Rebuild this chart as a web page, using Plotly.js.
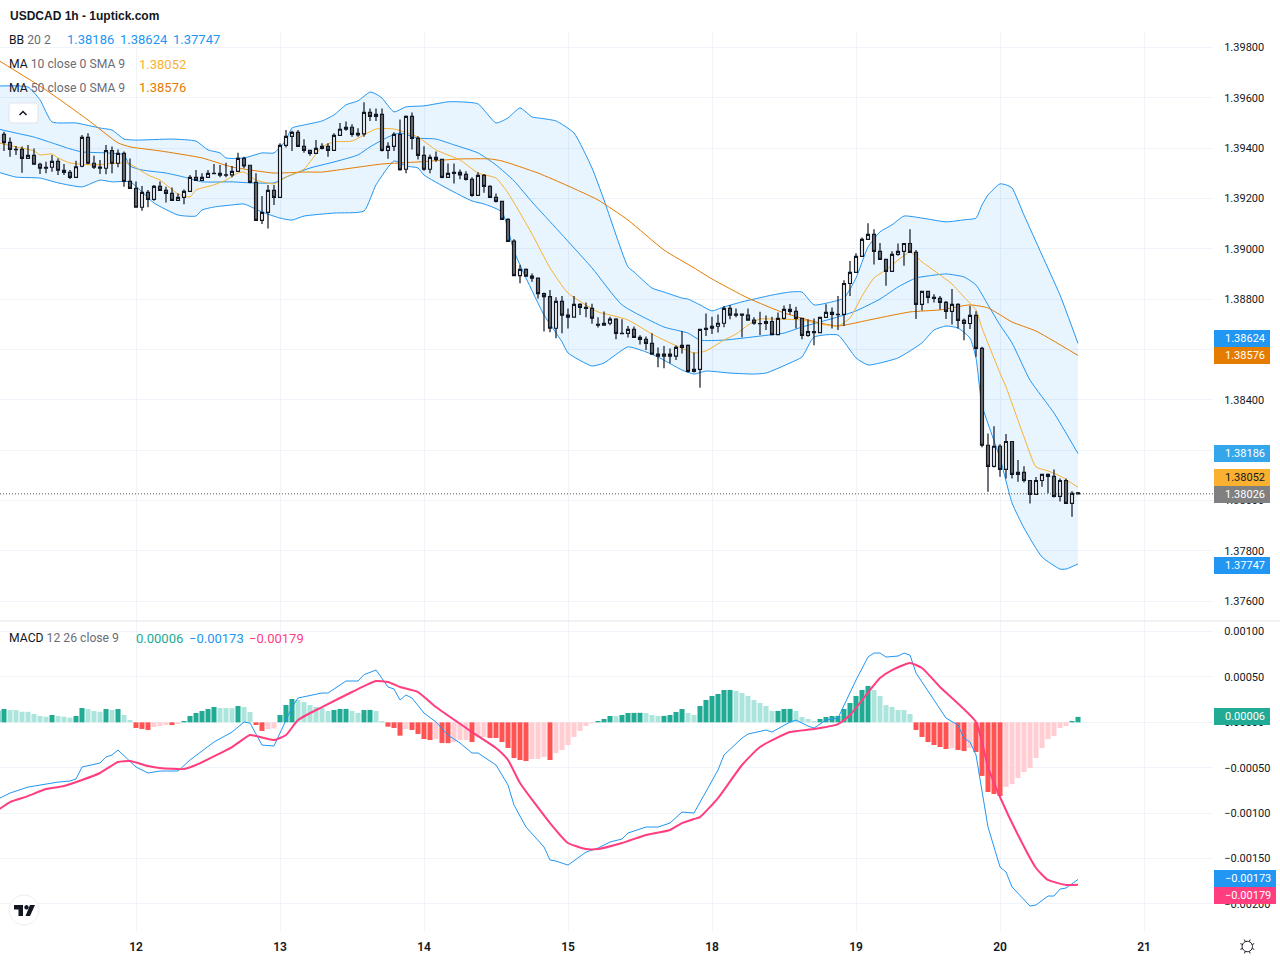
<!DOCTYPE html>
<html><head><meta charset="utf-8">
<script src="https://cdn.plot.ly/plotly-3.0.1.min.js"></script>
<style>html,body{margin:0;padding:0;background:#fff}#c{width:1280px;height:960px}</style>
</head><body><div id="c"></div>
<script>
// Hourly candles, first visible session to last bar
const openP=[1.39455,1.39455,1.39423,1.39395,1.39395,1.39359,1.39371,1.39336,1.39324,1.39324,1.39347,1.39312,1.39304,1.39284,1.39328,1.39443,1.39340,1.39325,1.39320,1.39390,1.39340,1.39379,1.39268,1.39240,1.39165,1.39224,1.39196,1.39248,1.39232,1.39220,1.39192,1.39204,1.39228,1.39284,1.39272,1.39284,1.39300,1.39300,1.39294,1.39294,1.39308,1.39359,1.39332,1.39264,1.39113,1.39145,1.39232,1.39204,1.39411,1.39447,1.39463,1.39407,1.39391,1.39379,1.39399,1.39407,1.39391,1.39451,1.39475,1.39483,1.39459,1.39457,1.39542,1.39526,1.39534,1.39391,1.39407,1.39455,1.39316,1.39526,1.39439,1.39371,1.39316,1.39363,1.39355,1.39284,1.39304,1.39304,1.39296,1.39276,1.39212,1.39292,1.39248,1.39204,1.39188,1.39117,1.39030,1.38893,1.38918,1.38891,1.38883,1.38822,1.38810,1.38684,1.38791,1.38736,1.38728,1.38779,1.38767,1.38763,1.38700,1.38696,1.38704,1.38720,1.38664,1.38664,1.38680,1.38648,1.38640,1.38624,1.38581,1.38573,1.38581,1.38573,1.38608,1.38616,1.38513,1.38521,1.38684,1.38684,1.38692,1.38704,1.38763,1.38740,1.38740,1.38736,1.38716,1.38703,1.38703,1.38711,1.38659,1.38723,1.38759,1.38751,1.38723,1.38656,1.38671,1.38667,1.38727,1.38747,1.38739,1.38739,1.38862,1.38906,1.38970,1.39037,1.39057,1.38990,1.38958,1.38910,1.38978,1.38990,1.39021,1.38986,1.38779,1.38831,1.38807,1.38803,1.38787,1.38751,1.38779,1.38715,1.38703,1.38735,1.38604,1.38219,1.38135,1.38215,1.38123,1.38234,1.38103,1.38111,1.38079,1.38024,1.38079,1.38103,1.38095,1.38016,1.38079,1.37988,1.38030];
const highP=[1.39465,1.39465,1.39442,1.39408,1.39406,1.39412,1.39399,1.39342,1.39346,1.39373,1.39359,1.39337,1.39313,1.39350,1.39452,1.39459,1.39370,1.39353,1.39412,1.39406,1.39395,1.39387,1.39359,1.39267,1.39249,1.39234,1.39253,1.39267,1.39247,1.39244,1.39220,1.39236,1.39293,1.39313,1.39300,1.39313,1.39337,1.39333,1.39342,1.39329,1.39382,1.39366,1.39333,1.39300,1.39210,1.39253,1.39253,1.39419,1.39472,1.39469,1.39472,1.39435,1.39391,1.39432,1.39419,1.39419,1.39459,1.39500,1.39506,1.39495,1.39479,1.39582,1.39558,1.39558,1.39558,1.39423,1.39463,1.39514,1.39530,1.39542,1.39447,1.39407,1.39375,1.39387,1.39355,1.39339,1.39339,1.39315,1.39308,1.39284,1.39304,1.39297,1.39252,1.39220,1.39191,1.39121,1.39038,1.38936,1.38922,1.38902,1.38883,1.38826,1.38836,1.38807,1.38812,1.38763,1.38812,1.38783,1.38786,1.38781,1.38728,1.38751,1.38730,1.38724,1.38720,1.38693,1.38691,1.38656,1.38651,1.38664,1.38608,1.38614,1.38604,1.38616,1.38673,1.38620,1.38588,1.38680,1.38743,1.38730,1.38739,1.38773,1.38777,1.38763,1.38743,1.38763,1.38728,1.38750,1.38735,1.38730,1.38747,1.38775,1.38780,1.38770,1.38723,1.38719,1.38723,1.38727,1.38779,1.38767,1.38812,1.38875,1.38951,1.38982,1.39045,1.39101,1.39078,1.39023,1.38958,1.38990,1.39021,1.39021,1.39078,1.38995,1.38831,1.38831,1.38819,1.38812,1.38792,1.38840,1.38783,1.38723,1.38774,1.38752,1.38611,1.38266,1.38295,1.38223,1.38264,1.38234,1.38160,1.38136,1.38079,1.38093,1.38103,1.38107,1.38123,1.38087,1.38087,1.38036,1.38033];
const lowP=[1.39333,1.39389,1.39366,1.39373,1.39302,1.39359,1.39336,1.39297,1.39300,1.39306,1.39293,1.39293,1.39277,1.39284,1.39324,1.39336,1.39317,1.39297,1.39296,1.39300,1.39324,1.39247,1.39240,1.39165,1.39151,1.39165,1.39191,1.39232,1.39184,1.39192,1.39192,1.39177,1.39228,1.39272,1.39272,1.39284,1.39297,1.39284,1.39284,1.39284,1.39308,1.39320,1.39260,1.39113,1.39098,1.39081,1.39174,1.39204,1.39403,1.39389,1.39406,1.39382,1.39370,1.39379,1.39395,1.39366,1.39391,1.39451,1.39469,1.39445,1.39445,1.39445,1.39508,1.39508,1.39387,1.39358,1.39389,1.39310,1.39300,1.39395,1.39355,1.39310,1.39300,1.39346,1.39280,1.39284,1.39259,1.39276,1.39271,1.39207,1.39212,1.39223,1.39204,1.39184,1.39114,1.39029,1.38891,1.38863,1.38891,1.38869,1.38802,1.38671,1.38668,1.38644,1.38664,1.38683,1.38728,1.38737,1.38728,1.38702,1.38687,1.38696,1.38696,1.38640,1.38663,1.38647,1.38648,1.38620,1.38598,1.38581,1.38529,1.38525,1.38545,1.38558,1.38584,1.38508,1.38508,1.38448,1.38653,1.38661,1.38667,1.38688,1.38720,1.38728,1.38648,1.38716,1.38698,1.38657,1.38677,1.38659,1.38659,1.38719,1.38739,1.38683,1.38640,1.38650,1.38617,1.38667,1.38727,1.38683,1.38677,1.38693,1.38812,1.38906,1.38968,1.39037,1.38937,1.38958,1.38853,1.38910,1.38972,1.38933,1.38986,1.38721,1.38755,1.38783,1.38786,1.38759,1.38721,1.38699,1.38683,1.38636,1.38681,1.38571,1.38211,1.38034,1.38131,1.38094,1.38087,1.38087,1.38074,1.38071,1.37988,1.38024,1.38054,1.38028,1.38011,1.37995,1.37988,1.37935,1.38024];
const closeP=[1.39419,1.39422,1.39395,1.39394,1.39359,1.39371,1.39336,1.39320,1.39320,1.39347,1.39312,1.39304,1.39284,1.39326,1.39443,1.39340,1.39324,1.39320,1.39390,1.39340,1.39379,1.39268,1.39240,1.39165,1.39224,1.39196,1.39248,1.39232,1.39220,1.39192,1.39204,1.39228,1.39284,1.39272,1.39284,1.39300,1.39299,1.39293,1.39293,1.39308,1.39359,1.39329,1.39264,1.39113,1.39145,1.39232,1.39204,1.39411,1.39447,1.39463,1.39407,1.39391,1.39379,1.39399,1.39407,1.39391,1.39451,1.39475,1.39483,1.39455,1.39453,1.39542,1.39526,1.39534,1.39391,1.39407,1.39455,1.39314,1.39526,1.39439,1.39371,1.39316,1.39363,1.39355,1.39284,1.39300,1.39300,1.39294,1.39276,1.39212,1.39292,1.39248,1.39204,1.39188,1.39117,1.39029,1.38893,1.38918,1.38891,1.38883,1.38822,1.38810,1.38684,1.38791,1.38736,1.38728,1.38779,1.38767,1.38763,1.38724,1.38696,1.38704,1.38720,1.38664,1.38663,1.38680,1.38648,1.38640,1.38624,1.38581,1.38573,1.38581,1.38573,1.38608,1.38616,1.38513,1.38521,1.38680,1.38680,1.38692,1.38704,1.38763,1.38736,1.38736,1.38736,1.38716,1.38704,1.38702,1.38711,1.38659,1.38723,1.38759,1.38751,1.38723,1.38656,1.38671,1.38667,1.38727,1.38747,1.38739,1.38738,1.38862,1.38906,1.38970,1.39037,1.39057,1.38990,1.38958,1.38910,1.38978,1.38990,1.39021,1.38986,1.38779,1.38831,1.38807,1.38803,1.38787,1.38751,1.38779,1.38715,1.38703,1.38735,1.38604,1.38219,1.38135,1.38215,1.38123,1.38234,1.38103,1.38111,1.38079,1.38024,1.38079,1.38103,1.38095,1.38016,1.38079,1.37988,1.38028,1.38026];

// Bollinger bands, read at their turning points
const bbUpperX=[-1,4,6,8,12,16,18,20,22,28,32,34,36,37,40,43,45,47,48,50,53,55,57,59,61,62,63,65,67,70,74,76,79,82,84,86,88,89,92,95,98,100,104,105,108,110,113,114,116,118,120,123,125,128,131,133,135,138,140,142,144,146,148,150,153,157,160,162,163,164,166,167,168,170,173,176,179];
const bbUpperY=[1.39647,1.39643,1.39592,1.39504,1.39500,1.39480,1.39472,1.39436,1.39432,1.39436,1.39428,1.39393,1.39381,1.39361,1.39361,1.39381,1.39381,1.39432,1.39480,1.39492,1.39508,1.39532,1.39572,1.39588,1.39623,1.39615,1.39599,1.39544,1.39564,1.39568,1.39584,1.39584,1.39576,1.39500,1.39520,1.39560,1.39524,1.39520,1.39508,1.39460,1.39321,1.39194,1.38928,1.38908,1.38844,1.38828,1.38804,1.38800,1.38777,1.38753,1.38769,1.38789,1.38800,1.38816,1.38828,1.38828,1.38777,1.38789,1.38804,1.38884,1.39007,1.39067,1.39095,1.39130,1.39122,1.39107,1.39115,1.39122,1.39174,1.39214,1.39258,1.39254,1.39242,1.39134,1.38975,1.38816,1.38624];
const bbBasisX=[-1,2,5,8,11,13,17,20,21,23,27,30,33,38,41,45,47,51,55,59,61,64,66,69,72,75,79,82,85,88,90,98,103,110,114,116,120,126,130,133,136,139,142,146,149,152,154,157,160,162,164,166,168,171,175,179];
const bbBasisY=[1.39476,1.39460,1.39444,1.39421,1.39397,1.39385,1.39381,1.39373,1.39329,1.39313,1.39301,1.39285,1.39266,1.39266,1.39262,1.39262,1.39285,1.39321,1.39345,1.39373,1.39405,1.39444,1.39460,1.39440,1.39436,1.39413,1.39381,1.39333,1.39270,1.39186,1.39134,1.38924,1.38777,1.38689,1.38665,1.38637,1.38637,1.38653,1.38665,1.38689,1.38709,1.38729,1.38753,1.38800,1.38848,1.38884,1.38892,1.38900,1.38888,1.38856,1.38777,1.38697,1.38626,1.38478,1.38347,1.38186];
const bbLowerX=[-1,2,6,9,13,16,18,21,25,29,32,33,35,38,40,43,46,48,50,55,60,62,65,67,69,70,74,78,80,83,85,87,90,93,94,98,100,104,107,109,113,115,117,121,125,127,131,133,135,139,142,144,146,149,153,155,157,159,161,162,163,166,168,170,173,176,177,179];
const bbLowerY=[1.39305,1.39285,1.39281,1.39262,1.39246,1.39273,1.39266,1.39266,1.39182,1.39134,1.39130,1.39154,1.39166,1.39174,1.39178,1.39146,1.39122,1.39114,1.39130,1.39142,1.39150,1.39254,1.39349,1.39329,1.39321,1.39293,1.39238,1.39190,1.39178,1.39146,1.38991,1.38884,1.38737,1.38630,1.38586,1.38534,1.38546,1.38610,1.38590,1.38570,1.38518,1.38502,1.38514,1.38506,1.38502,1.38506,1.38546,1.38570,1.38649,1.38657,1.38566,1.38538,1.38546,1.38566,1.38626,1.38677,1.38693,1.38685,1.38645,1.38566,1.38379,1.38168,1.37990,1.37890,1.37775,1.37727,1.37727,1.37747];

// Moving averages
const ma10X=[-1,2,5,6,8,9,11,15,17,20,21,24,26,29,31,32,35,37,39,40,42,45,47,50,53,55,58,62,65,69,72,76,79,82,84,88,91,94,99,101,104,108,111,115,117,120,122,124,126,128,133,136,139,141,143,145,147,149,151,153,156,158,160,162,163,166,167,170,172,174,176,179];
const ma10Y=[1.39421,1.39405,1.39389,1.39373,1.39377,1.39361,1.39341,1.39333,1.39337,1.39341,1.39337,1.39293,1.39273,1.39218,1.39206,1.39234,1.39254,1.39273,1.39301,1.39305,1.39273,1.39258,1.39285,1.39317,1.39405,1.39425,1.39428,1.39476,1.39476,1.39444,1.39393,1.39353,1.39301,1.39281,1.39222,1.39059,1.38924,1.38824,1.38749,1.38737,1.38717,1.38661,1.38626,1.38586,1.38594,1.38637,1.38661,1.38697,1.38721,1.38721,1.38717,1.38701,1.38693,1.38725,1.38812,1.38884,1.38916,1.38955,1.38987,1.38948,1.38896,1.38860,1.38808,1.38757,1.38685,1.38506,1.38451,1.38252,1.38133,1.38117,1.38097,1.38052];
const ma50X=[-1,7,14,19,21,26,33,38,45,50,53,58,63,69,76,81,83,89,94,99,104,110,115,118,124,130,136,139,145,151,156,161,164,168,172,179];
const ma50Y=[1.39750,1.39631,1.39512,1.39421,1.39405,1.39389,1.39361,1.39325,1.39301,1.39305,1.39305,1.39321,1.39337,1.39345,1.39357,1.39357,1.39349,1.39301,1.39250,1.39194,1.39114,1.38995,1.38924,1.38880,1.38804,1.38745,1.38705,1.38693,1.38721,1.38749,1.38757,1.38777,1.38765,1.38709,1.38673,1.38576];

// MACD pane, values in points (1 point = 0.00001)
const macdHistPts=[12.8,14.7,13.6,13.5,11.7,11.6,9.2,7.0,6.2,8.1,7.0,6.2,5.1,7.0,15.8,14.7,12.5,11.7,14.7,13.6,14.7,8.1,2.6,-6.2,-7.3,-8.4,-5.1,-4.0,-2.9,-3.0,-1.8,1.5,7.0,10.3,12.5,14.7,16.9,15.8,15.7,15.6,18.0,16.9,11.4,-2.9,-9.5,-7.3,-6.6,8.1,19.1,25.7,24.6,22.4,19.1,16.9,15.8,12.5,13.6,14.7,14.8,12.5,10.3,13.6,13.7,12.5,1.5,-4.8,-6.2,-14.7,-7.3,-8.4,-12.8,-18.4,-19.5,-18.4,-22.8,-22.9,-21.7,-19.5,-19.4,-21.7,-16.5,-16.1,-17.2,-17.3,-21.7,-28.3,-39.3,-41.5,-42.6,-40.4,-40.3,-38.2,-41.5,-33.8,-30.5,-25.0,-16.1,-9.5,-4.0,-1.1,1.5,3.7,7.0,6.9,8.1,10.3,10.4,10.5,10.3,8.1,7.0,7.1,8.1,11.4,14.7,10.3,8.1,18.0,24.6,29.0,31.2,35.6,35.7,34.5,32.3,29.0,24.6,21.3,18.0,12.5,12.6,14.7,14.8,12.5,5.9,3.7,1.5,3.7,5.9,7.0,7.1,14.7,21.3,29.0,35.6,40.0,35.6,29.0,19.0,16.9,13.6,13.5,9.2,-8.4,-16.1,-21.7,-25.0,-27.2,-29.4,-28.6,-30.5,-31.6,-28.3,-32.7,-59.0,-76.7,-78.9,-81.1,-71.2,-67.9,-61.3,-54.7,-50.3,-39.3,-28.3,-18.4,-15.0,-6.2,-4.0,1.5,6.0];
const macdLineX=[-1,1,4,7,9,11,12,13,16,17,18,19,22,24,26,29,31,35,38,40,41,43,45,48,49,53,54,57,59,60,62,64,65,66,67,68,70,72,74,76,78,79,82,84,85,87,90,91,92,94,97,99,101,103,104,107,109,111,113,115,119,120,123,124,127,128,131,132,134,135,137,139,142,144,145,146,147,149,150,151,152,155,157,159,160,161,162,164,166,167,168,171,172,174,175,176,177,179];
const macdLinePts=[-84.5,-77.9,-71.3,-68,-65.8,-64.6,-62.4,-49.2,-44.8,-38.2,-36,-30.5,-49.2,-55.8,-53.6,-53.6,-41.5,-21.7,-10.7,0.3,-0.8,-25,-26.1,16.8,26.8,32.3,32.3,45.5,45.5,52.5,57.6,38.9,36.7,24.6,30.1,26.8,10.2,0.3,-14,-22.8,-33.8,-33.8,-47,-69,-91.1,-115.3,-137.3,-151.6,-152.8,-157.2,-142.9,-138.5,-131.8,-128.5,-121.9,-115.3,-115.3,-110.9,-98.8,-99.9,-52.5,-36,-17.3,-12.9,-8.5,-10.7,0.3,2.5,-4.1,-6.3,2.5,4.7,46.6,71.9,76.3,76.3,71.9,73,76.3,74.1,54.3,24.6,4.7,-3,-17.3,-21.7,-36,-115.3,-159.3,-164.8,-181.3,-202.3,-201.2,-191.3,-191.3,-183.6,-182.5,-173];
const signalX=[-1,1,4,7,10,13,16,19,21,24,26,30,32,38,41,42,45,47,49,53,58,62,64,66,69,72,78,82,84,86,91,94,97,99,103,107,111,113,115,116,119,123,126,131,135,139,141,146,148,151,153,156,162,164,166,169,172,174,177,179];
const signalPts=[-96.6,-87.8,-81.2,-73.5,-70.2,-63.5,-55.8,-43.7,-42.6,-48.1,-50.3,-51.4,-47,-27.2,-14,-15.1,-19.5,-14,2.5,16.8,33.4,45.5,44.4,38.9,33.4,16.8,-10.7,-28.3,-41.5,-66.8,-110.9,-132.9,-139.5,-139.5,-132.9,-124.1,-118.6,-110.9,-106.5,-104.3,-83.4,-47,-27.2,-10.7,-7.4,-1.9,8,48.8,57.6,65.4,59.8,38.9,0.3,-49.2,-82.2,-124.1,-160.4,-173.6,-179.1,-179];

// Axis ticks
const dayTickPos=[22,46,70,94,118,142,166,190];
const dayTickText=['12','13','14','15','18','19','20','21'];
const priceTicks=[1.376,1.378,1.380,1.382,1.384,1.386,1.388,1.390,1.392,1.394,1.396,1.398];
const priceTickText=['1.37600','1.37800','1.38000','','1.38400','','1.38800','1.39000','1.39200','1.39400','1.39600','1.39800'];
const macdTicks=[-0.002,-0.0015,-0.001,-0.0005,0,0.0005,0.001];
const macdTickText=['−0.00200','−0.00150','−0.00100','−0.00050','0.00000','0.00050','0.00100'];

const idx=openP.map((_,i)=>i-1);
const pts=a=>a.map(v=>v*1e-5);
const BLUE='#2196F3',MA10='#F9B12F',MA50='#E57C00',PINK='#FF3D7F',GRID='#F0F3FA',INK='#131722',MUTE='#6A6D78';
const FONT='Roboto, sans-serif';
const W=1213,TOP=32,BOT=931,H=BOT-TOP;
const px=x=>x/W, py=y=>(BOT-y)/H;

const histV=pts(macdHistPts);
const histC=histV.map((v,i)=>{const p=i?histV[i-1]:v;
  return v>=0?(v>=p?'#22AB94':'#ACE5DC'):(v<p?'#FF5252':'#FFCDD2');});

const curve=(color,width)=>({color,width,shape:'spline',smoothing:0.5});
const band=(x,y,extra)=>Object.assign({type:'scatter',mode:'lines',x,y,xaxis:'x',yaxis:'y',hoverinfo:'skip',line:curve(BLUE,1)},extra||{});
const traces=[
  band(bbLowerX,bbLowerY),
  band(bbUpperX,bbUpperY,{fill:'tonexty',fillcolor:'rgba(33,150,243,0.1)'}),
  band(bbBasisX,bbBasisY),
  band(ma50X,ma50Y,{line:curve(MA50,1)}),
  band(ma10X,ma10Y,{line:curve(MA10,1)}),
  {type:'candlestick',x:idx,open:openP,high:highP,low:lowP,close:closeP,xaxis:'x',yaxis:'y3',width:0.75,whiskerwidth:0,
   increasing:{line:{color:'#131722',width:1.2},fillcolor:'#FFFFFF'},
   decreasing:{line:{color:'#131722',width:1.2},fillcolor:'#6E6E6E'},hoverinfo:'skip'},
  {type:'bar',x:idx,y:histV,xaxis:'x',yaxis:'y2',width:0.84,marker:{color:histC,line:{width:0}},hoverinfo:'skip'},
  {type:'scatter',mode:'lines',x:macdLineX,y:pts(macdLinePts),xaxis:'x',yaxis:'y2',line:{color:BLUE,width:1},hoverinfo:'skip'},
  {type:'scatter',mode:'lines',x:signalX,y:pts(signalPts),xaxis:'x',yaxis:'y2',line:curve(PINK,2),hoverinfo:'skip'}
];

const txt=(x,y,text,color,size,family,weight)=>({xref:'paper',yref:'paper',x:px(x),y:py(y),xanchor:'left',yanchor:'middle',showarrow:false,borderpad:0,borderwidth:0,text,font:{family:family||FONT,size:size||12.2,color:color||INK,weight:weight||400}});
const tag=(val,axis,yshift,label,bg,fg,w)=>[
  {xref:'paper',yref:axis,x:1,xanchor:'left',xshift:1,y:val,yanchor:'middle',yshift,showarrow:false,borderpad:0,borderwidth:0,text:'&nbsp;',width:w||56,height:17,bgcolor:bg,font:{size:11}},
  {xref:'paper',yref:axis,x:1,xanchor:'left',xshift:12,y:val,yanchor:'middle',yshift,showarrow:false,borderpad:0,borderwidth:0,text:label,font:{family:FONT,size:11,color:fg}}
];

const annotations=[
  txt(10,16,'USDCAD 1h - 1uptick.com','#131722',12,'Liberation Sans, Arial, sans-serif',700),
  txt(9,40,'BB <span style="color:'+MUTE+'">20 2</span>'),
  txt(67,40,'1.38186',BLUE,13),txt(120,40,'1.38624',BLUE,13),txt(173,40,'1.37747',BLUE,13),
  txt(9,64,'MA <span style="color:'+MUTE+'">10 close 0 SMA 9</span>'),txt(139,64,'1.38052',MA10,13),
  txt(9,88,'MA <span style="color:'+MUTE+'">50 close 0 SMA 9</span>'),txt(139,88,'1.38576',MA50,13),
  txt(9,638,'MACD <span style="color:'+MUTE+'">12 26 close 9</span>'),
  txt(136,638,'0.00006','#22AB94',13),txt(189,638,'−0.00173',BLUE,13),txt(249,638,'−0.00179',PINK,13),
  ...tag(1.38624,'y',5,'1.38624',BLUE,'#fff'),
  ...tag(1.38576,'y',0,'1.38576',MA50,'#fff'),
  ...tag(1.38186,'y',0,'1.38186','#36A6EB','#fff'),
  ...tag(1.38052,'y',10,'1.38052',MA10,'#131722'),
  ...tag(1.38026,'y',-1,'1.38026','#808080','#fff'),
  ...tag(1.37747,'y',-1,'1.37747',BLUE,'#fff'),
  ...tag(0.00006,'y2',0,'0.00006','#22AB94','#fff'),
  ...tag(-0.00173,'y2',1,'−0.00173',BLUE,'#fff',62),
  ...tag(-0.00179,'y2',-11,'−0.00179',PINK,'#fff',62)
];

const P=(x,y)=>px(x).toFixed(5)+','+py(y).toFixed(5);
const path=(pp,close)=>'M'+pp.map(p=>P(p[0],p[1])).join('L')+(close?'Z':'');
const circlePath=(cx,cy,r)=>{const a=[];for(let i=0;i<=24;i++){const t=i/24*2*Math.PI;a.push([cx+r*Math.cos(t),cy+r*Math.sin(t)]);}return path(a,true);};
const gearRays=[];for(let i=0;i<8;i++){const t=i/8*2*Math.PI+Math.PI/8;gearRays.push('M'+P(1247.3+5.5*Math.cos(t),946.5+5.5*Math.sin(t))+'L'+P(1247.3+7.5*Math.cos(t),946.5+7.5*Math.sin(t)));}
const S=(o)=>Object.assign({xref:'paper',yref:'paper',layer:'above'},o);
const shapes=[
  {type:'line',xref:'paper',yref:'y',x0:0,x1:1,y0:closeP[closeP.length-1],y1:closeP[closeP.length-1],layer:'above',line:{color:'#555555',width:1,dash:'1px,2px'}},
  S({type:'line',x0:0,x1:1280/W,y0:py(621),y1:py(621),line:{color:'#E0E3EB',width:1}}),
  S({type:'path',path:path([[11,103],[36,103],[38,105],[38,121],[36,123],[11,123],[9,121],[9,105]],true),fillcolor:'#FFFFFF',line:{color:'#E0E3EB',width:1}}),
  S({type:'path',path:path([[19.5,115],[23,111.5],[26.5,115]]),line:{color:INK,width:1.5}}),
  S({type:'path',path:circlePath(24,910,15),fillcolor:'#FFFFFF',line:{color:'#ECEEF2',width:1}}),
  S({type:'path',path:path([[14,905],[23,905],[23,916],[18.5,916],[18.5,909.5],[14,909.5]],true),fillcolor:INK,line:{width:0}}),
  S({type:'path',path:circlePath(26.5,907.3,2.2),fillcolor:INK,line:{width:0}}),
  S({type:'path',path:path([[30,905],[35,905],[30,916],[25.5,916]],true),fillcolor:INK,line:{width:0}}),
  S({type:'path',path:circlePath(1247.3,946.5,5.2),fillcolor:'#FFFFFF',line:{color:INK,width:1}}),
  S({type:'path',path:gearRays.join(''),line:{color:INK,width:1}})
];

const yCommon={side:'right',showgrid:true,gridcolor:GRID,gridwidth:1,zeroline:false,showline:false,ticks:'outside',ticklen:8,tickcolor:'rgba(0,0,0,0)',tickfont:{family:FONT,size:11,color:INK},tickmode:'array',fixedrange:true};
const mainRange=[1.375205,1.398616];
const layout={
  width:1280,height:960,margin:{l:0,r:67,t:TOP,b:960-BOT,pad:0},paper_bgcolor:'#fff',plot_bgcolor:'#fff',showlegend:false,hovermode:false,dragmode:false,barmode:'overlay',
  xaxis:{anchor:'y2',range:[-0.667,201.5],tickmode:'array',tickvals:dayTickPos,ticktext:dayTickText,showgrid:true,gridcolor:GRID,gridwidth:1,zeroline:false,showline:false,ticks:'outside',ticklen:5,tickcolor:'rgba(0,0,0,0)',tickfont:{family:FONT,size:12,color:INK,weight:600},rangeslider:{visible:false},fixedrange:true},
  yaxis:Object.assign({},yCommon,{domain:[(BOT-621)/H,1],range:mainRange,tickvals:priceTicks,ticktext:priceTickText,anchor:'x'}),
  yaxis3:{overlaying:'y',range:mainRange,visible:false,side:'right',fixedrange:true,anchor:'x'},
  yaxis2:Object.assign({},yCommon,{domain:[0,(BOT-622)/H],range:[-0.002298,0.001105],tickvals:macdTicks,ticktext:macdTickText,anchor:'x'}),
  shapes,annotations
};
Plotly.newPlot('c',traces,layout,{staticPlot:true,displayModeBar:false});
</script></body></html>
